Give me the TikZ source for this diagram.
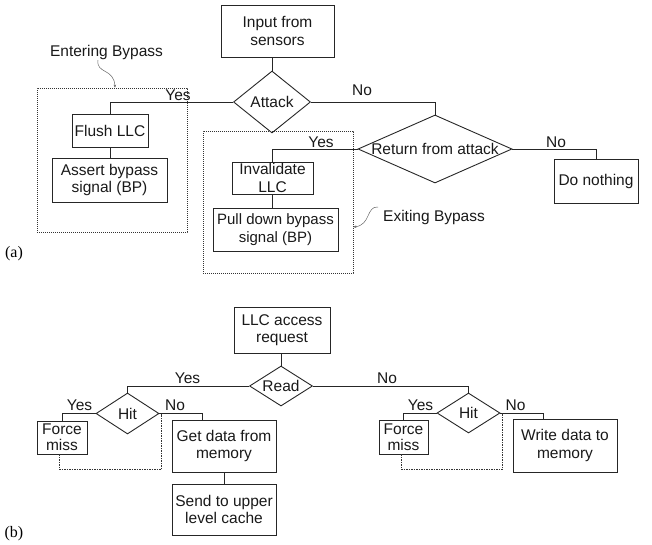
\documentclass[tikz,border=0pt]{standalone}
\usepackage{fontspec}
\setmainfont{Liberation Sans}
\newfontfamily\serifface{Liberation Serif}
\usetikzlibrary{shapes.geometric,arrows.meta}
\begin{document}
\begin{tikzpicture}[x=1pt,y=-1pt,
  every node/.style={font=\fontsize{15.5}{17.5}\selectfont, text=black!90},
  line/.style={draw=black!85, line width=0.9pt},
  box/.style={line, rectangle, inner sep=0pt, align=center},
  dia/.style={line, diamond, inner sep=0pt},
  grp/.style={draw=black!80, line width=0.7pt, dash pattern=on 1.2pt off 0.8pt, rectangle, inner sep=0pt},
  dotline/.style={draw=black!80, line width=0.8pt, dash pattern=on 1.5pt off 1pt},
  lbl/.style={inner sep=0pt, anchor=base},
  curly/.style={draw=black!60, line width=0.5pt, -{Stealth[length=3pt,width=2.5pt]}},
  captext/.style={inner sep=0pt, font=\serifface\fontsize{16}{18}\selectfont, text=black}
]
\useasboundingbox (0,0) rectangle (652,544);

% ---------------- (a) ----------------
\node[box, minimum width=113, minimum height=52] (in) at (277.5,31) {Input from\\sensors};
\node[dia, minimum width=77, minimum height=62, label=center:Attack] (att) at (272,102) {};
\node[box, minimum width=76, minimum height=33] (flush) at (110,130.5) {Flush LLC};
\node[box, minimum width=115, minimum height=44] (assert) at (109.5,180) {Assert bypass\\signal (BP)};
\node[dia, minimum width=154, minimum height=68, label=center:Return from attack] (ret) at (435,149) {};
\node[box, minimum width=81, minimum height=32] (inval) at (272.5,178) {Invalidate\\LLC};
\node[box, minimum width=125, minimum height=43, font=\fontsize{15}{17.5}\selectfont] (pull) at (275.5,229.5) {Pull down bypass\\signal (BP)};
\node[box, minimum width=84, minimum height=44] (dn) at (596,181) {Do nothing};

\node[grp, minimum width=150, minimum height=144] (enter) at (112,160) {};
\node[grp, minimum width=150, minimum height=142] (exit) at (278,202) {};

\node[inner sep=0pt] (entxt) at (106.5,52) {Entering Bypass};
\node[inner sep=0pt, anchor=west] (extxt) at (383,217) {Exiting Bypass};
\coordinate (encs) at (98,60);
\coordinate (excs) at (378,207);
\draw[curly] (encs) .. controls (96,74) and (114,68) .. ([xshift=3pt]enter.north);
\draw[curly] (excs) .. controls (366,206) and (371,225) .. ([yshift=-25pt]exit.east);

\draw[line] (att.north) -- (att.north |- in.south);
\draw[line] (att.west) -| (flush.north);
\draw[line] (flush.south) -- (flush.south |- assert.north);
\draw[line] (att.east) -| (ret.north);
\draw[line] (ret.west) -| (inval.north);
\draw[line] (inval.south) -- (inval.south |- pull.north);
\draw[line] (ret.east) -| (dn.north);

\node[lbl] (ya) at (178,100.5) {Yes};
\node[lbl] (na) at (362,95) {No};
\node[lbl] (yr) at (321,147) {Yes};
\node[lbl] (nr) at (556,147) {No};
\node[captext] (capa) at (14,254) {(a)};

% ---------------- (b) ----------------
\node[box, minimum width=96, minimum height=46] (llc) at (282,330) {LLC access\\request};
\node[dia, minimum width=63, minimum height=40, label=center:Read] (read) at (281,386) {};
\node[dia, minimum width=63, minimum height=41, label=center:Hit] (hitl) at (127.5,413.5) {};
\node[box, minimum width=50, minimum height=33, font=\fontsize{15.5}{16}\selectfont] (fml) at (62,437.5) {Force\\miss};
\node[box, minimum width=104, minimum height=52] (getd) at (224,446) {Get data from\\memory};
\node[box, minimum width=104, minimum height=51] (send) at (224,509.5) {Send to upper\\level cache};
\node[dia, minimum width=63, minimum height=40, label=center:Hit] (hitr) at (468.5,413) {};
\node[box, minimum width=49, minimum height=34, font=\fontsize{15.5}{16}\selectfont] (fmr) at (403.5,437) {Force\\miss};
\node[box, minimum width=104, minimum height=53] (wr) at (565,445.5) {Write data to\\memory};

\draw[line] (read.north) -- (read.north |- llc.south);
\draw[line] (read.west) -| (hitl.north);
\draw[line] (hitl.west) -| (fml.north);
\draw[line] (hitl.east) -| ([xshift=-22pt]getd.north);
\draw[line] (getd.south) -- (getd.south |- send.north);
\draw[line] (read.east) -| (hitr.north);
\draw[line] (hitr.west) -| (fmr.north);
\draw[line] (hitr.east) -| ([xshift=-22pt]wr.north);
\draw[dotline] ([xshift=-3pt]fml.south) -- ++(0,15) -| ([xshift=2pt]hitl.east);
\draw[dotline] ([xshift=-2.5pt]fmr.south) -- ++(0,15) -| ([xshift=2pt]hitr.east);

\node[lbl] (yrd) at (187.5,383) {Yes};
\node[lbl] (nrd) at (387,383) {No};
\node[lbl] (yhl) at (79.5,410) {Yes};
\node[lbl] (nhl) at (175,410) {No};
\node[lbl] (yhr) at (420.5,410) {Yes};
\node[lbl] (nhr) at (515.5,410) {No};
\node[captext] (capb) at (14,534) {(b)};
\end{tikzpicture}
\end{document}
